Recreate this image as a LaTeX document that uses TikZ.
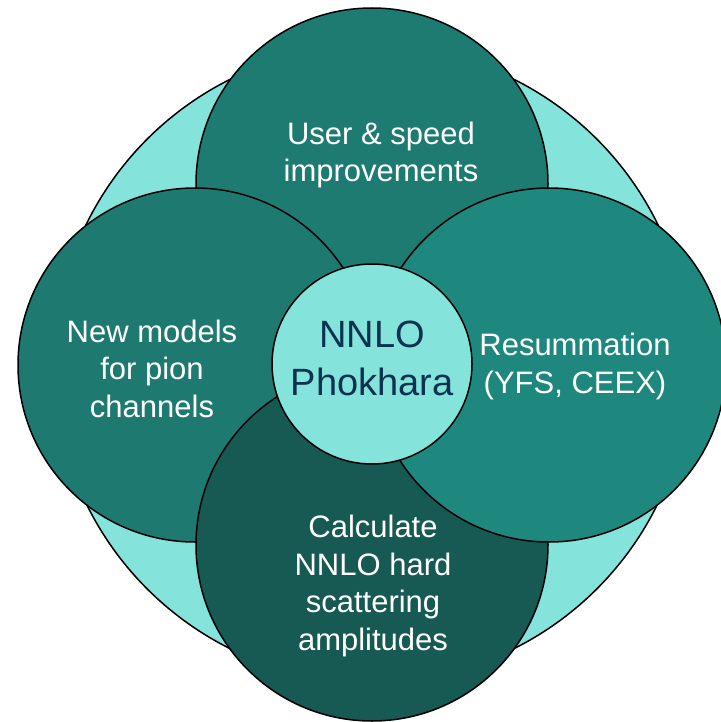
\documentclass[tikz,border=0pt]{standalone}
\usepackage{fontspec}
\setmainfont{Liberation Sans}
\usepackage{tikz}
\usetikzlibrary{positioning,calc}

\definecolor{ringc}{HTML}{84E3DA}
\definecolor{topc}{HTML}{1E7B71}
\definecolor{leftc}{HTML}{1E7A70}
\definecolor{rightc}{HTML}{1F887E}
\definecolor{botc}{HTML}{165A53}
\definecolor{corec}{HTML}{0B3350}

\begin{document}
\begin{tikzpicture}[x=1pt,y=-1pt]

  \tikzset{
    blob/.style={circle,draw=black,line width=1.5pt,inner sep=0pt},
    lbl/.style={align=center,anchor=base,text=white,font=\fontsize{31}{37.5}\selectfont},
  }

   \useasboundingbox (0,0) rectangle (720,722);

   % BACKGROUND RING
   \node[blob,fill=ringc,minimum size=636pt] (ring) at (372,364) {};

   % PETALS
   \node[blob,fill=topc,minimum size=352pt] (user) at (372,184) {};
   \node[blob,fill=leftc,minimum size=354pt] (models) at (195,365) {};
   \node[blob,fill=botc,minimum size=352pt] (calc) at (372,545) {};
   \node[blob,fill=rightc,minimum size=354pt] (resum) at (549,365) {};

   % CORE
   \node[blob,fill=ringc,minimum size=200pt] (core) at (372,364) {};

   % LABELS (base = last line)
   \node[lbl] (usertxt) at (381,182) {User \& speed\\improvements};
   \node[lbl] (modelstxt) at (152,417) {New models\\for pion\\channels};
   \node[lbl] (resumtxt) at (575,393) {Resummation\\(YFS, CEEX)};
   \node[lbl] (calctxt) at (373,650) {Calculate\\NNLO hard\\scattering\\amplitudes};
   \node[lbl,text=corec,font=\fontsize{38}{48}\selectfont] (coretxt) at (372,395) {NNLO\\Phokhara};

\end{tikzpicture}
\end{document}
